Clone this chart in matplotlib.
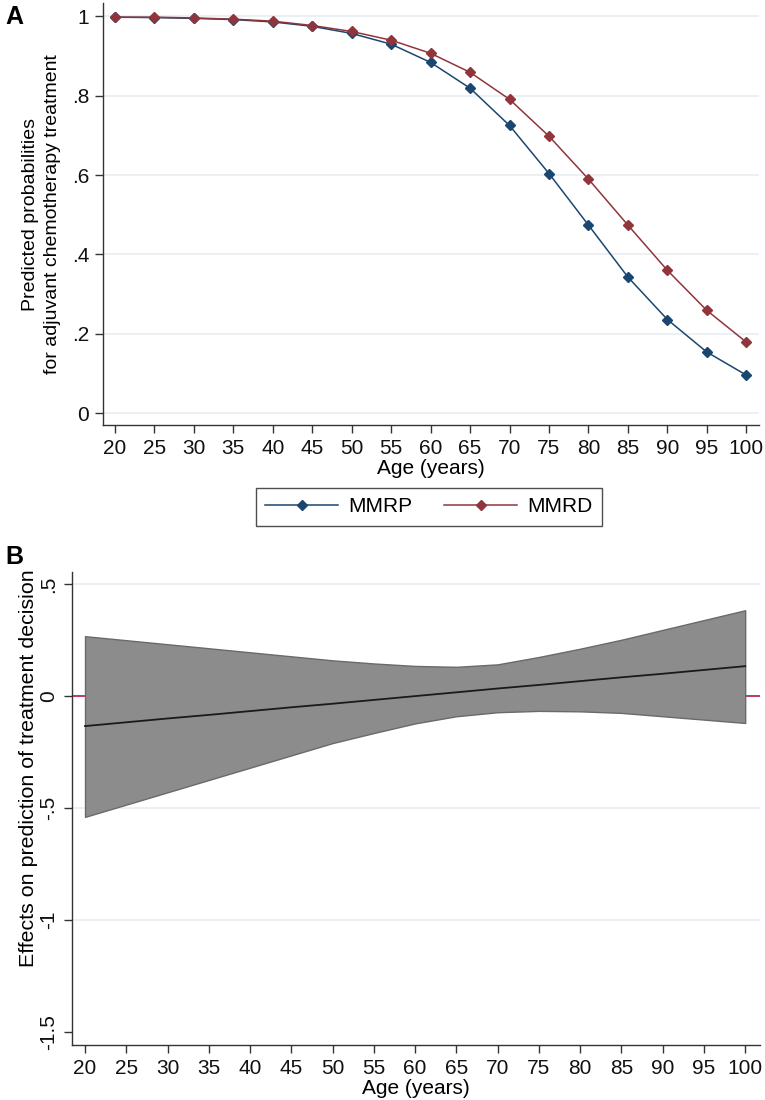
import matplotlib
matplotlib.use("Agg")
import matplotlib.pyplot as plt
from matplotlib.lines import Line2D

plt.rcParams['font.family'] = ['Liberation Sans Narrow', 'Liberation Sans', 'DejaVu Sans']

# Panel A: predicted probabilities by age
ages = [20, 25, 30, 35, 40, 45, 50, 55, 60, 65, 70, 75, 80, 85, 90, 95, 100]
mmrp = [0.998, 0.997, 0.995, 0.992, 0.986, 0.975, 0.957, 0.930, 0.884,
        0.819, 0.725, 0.604, 0.474, 0.343, 0.236, 0.154, 0.096]
mmrd = [0.998, 0.998, 0.996, 0.993, 0.988, 0.977, 0.962, 0.940, 0.907,
        0.859, 0.791, 0.698, 0.590, 0.474, 0.360, 0.259, 0.179]

# Panel B: effect with confidence band
effect = [-0.134, -0.117, -0.100, -0.084, -0.067, -0.050, -0.034, -0.017, 0.0,
          0.017, 0.034, 0.050, 0.067, 0.084, 0.100, 0.117, 0.134]
upper = [0.268, 0.250, 0.232, 0.214, 0.196, 0.178, 0.160, 0.146, 0.135,
         0.131, 0.142, 0.175, 0.212, 0.252, 0.296, 0.340, 0.384]
lower = [-0.540, -0.485, -0.430, -0.375, -0.320, -0.265, -0.210, -0.165, -0.122,
         -0.090, -0.072, -0.066, -0.068, -0.075, -0.090, -0.105, -0.120]

ya_ticks = [0, 0.2, 0.4, 0.6, 0.8, 1.0]
ya_labels = ['0', '.2', '.4', '.6', '.8', '1']
yb_ticks = [-1.5, -1.0, -0.5, 0, 0.5]
yb_labels = ['-1.5', '-1', '-.5', '0', '.5']

blue = '#1a476f'
red = '#90353b'
grid_c = '#e6eef1'
axis_c = '#333333'
sans = ['Liberation Sans', 'DejaVu Sans']

fig = plt.figure(figsize=(7.65, 11), dpi=100)


def style_axes(ax):
    for s in ['top', 'right']:
        ax.spines[s].set_visible(False)
    for s in ['left', 'bottom']:
        ax.spines[s].set_color(axis_c)
        ax.spines[s].set_linewidth(1.0)
    ax.tick_params(direction='out', length=6, width=1, color=axis_c,
                   labelsize=15, labelcolor='#111111', pad=4)
    ax.set_xticks(ages)
    ax.set_xticklabels([str(a) for a in ages])


# ---- Panel A
axA = fig.add_axes([0.1346, 0.6136, 0.8574, 0.3834])
style_axes(axA)
for t in ya_ticks:
    axA.axhline(t, color=grid_c, lw=1.2, zorder=0)
axA.plot(ages, mmrp, color=blue, lw=1.1, marker='D', ms=5, zorder=3)
axA.plot(ages, mmrd, color=red, lw=1.1, marker='D', ms=5, zorder=3)
axA.set_xlim(18.48, 101.6)
axA.set_ylim(-0.03, 1.033)
axA.set_yticks(ya_ticks)
axA.set_yticklabels(ya_labels)
axA.set_xlabel('Age (years)', fontsize=15, labelpad=1)
axA.set_ylabel('Predicted probabilities\nfor adjuvant chemotherapy treatment',
               fontsize=14, family=sans, linespacing=1.4)
axA.yaxis.set_label_coords(-0.064, 0.5)

handles = [Line2D([], [], color=blue, lw=1.1, marker='D', ms=5),
           Line2D([], [], color=red, lw=1.1, marker='D', ms=5)]
leg = fig.legend(handles, ['MMRP', 'MMRD'], loc='center',
                 bbox_to_anchor=(429 / 765, 1 - 507 / 1100), ncol=2,
                 fontsize=15, frameon=True, fancybox=False, handlelength=3.5,
                 handletextpad=0.5, columnspacing=1.5, borderpad=0.45,
                 borderaxespad=0)
leg.get_frame().set_edgecolor('#222222')
leg.get_frame().set_linewidth(1.0)

# ---- Panel B
axB = fig.add_axes([0.0941, 0.05, 0.8994, 0.43])
style_axes(axB)
for t in yb_ticks[1:]:
    axB.axhline(t, color=grid_c, lw=1.2, zorder=0)
axB.axhline(0, color='#b01e3c', lw=1.2, zorder=1)
axB.fill_between(ages, lower, upper, facecolor='#8c8c8c', edgecolor='#6a6a6a',
                 lw=1.0, zorder=2)
axB.plot(ages, effect, color='#1a1a1a', lw=1.3, zorder=3)
axB.set_xlim(18.42, 101.8)
axB.set_ylim(-1.56, 0.555)
axB.set_yticks(yb_ticks)
axB.set_yticklabels(yb_labels, rotation=90, va='center')
axB.set_xlabel('Age (years)', fontsize=15, labelpad=1)
axB.set_ylabel('Effects on prediction of treatment decision', fontsize=15.4,
               family=sans)
axB.yaxis.set_label_coords(-0.05, 0.585)

fig.text(5 / 765, 1 - 17 / 1100, 'A', fontsize=18, fontweight='bold',
         family=sans, va='center', ha='left')
fig.text(5 / 765, 1 - 557 / 1100, 'B', fontsize=18, fontweight='bold',
         family=sans, va='center', ha='left')

fig.savefig('out.png', dpi=100)
